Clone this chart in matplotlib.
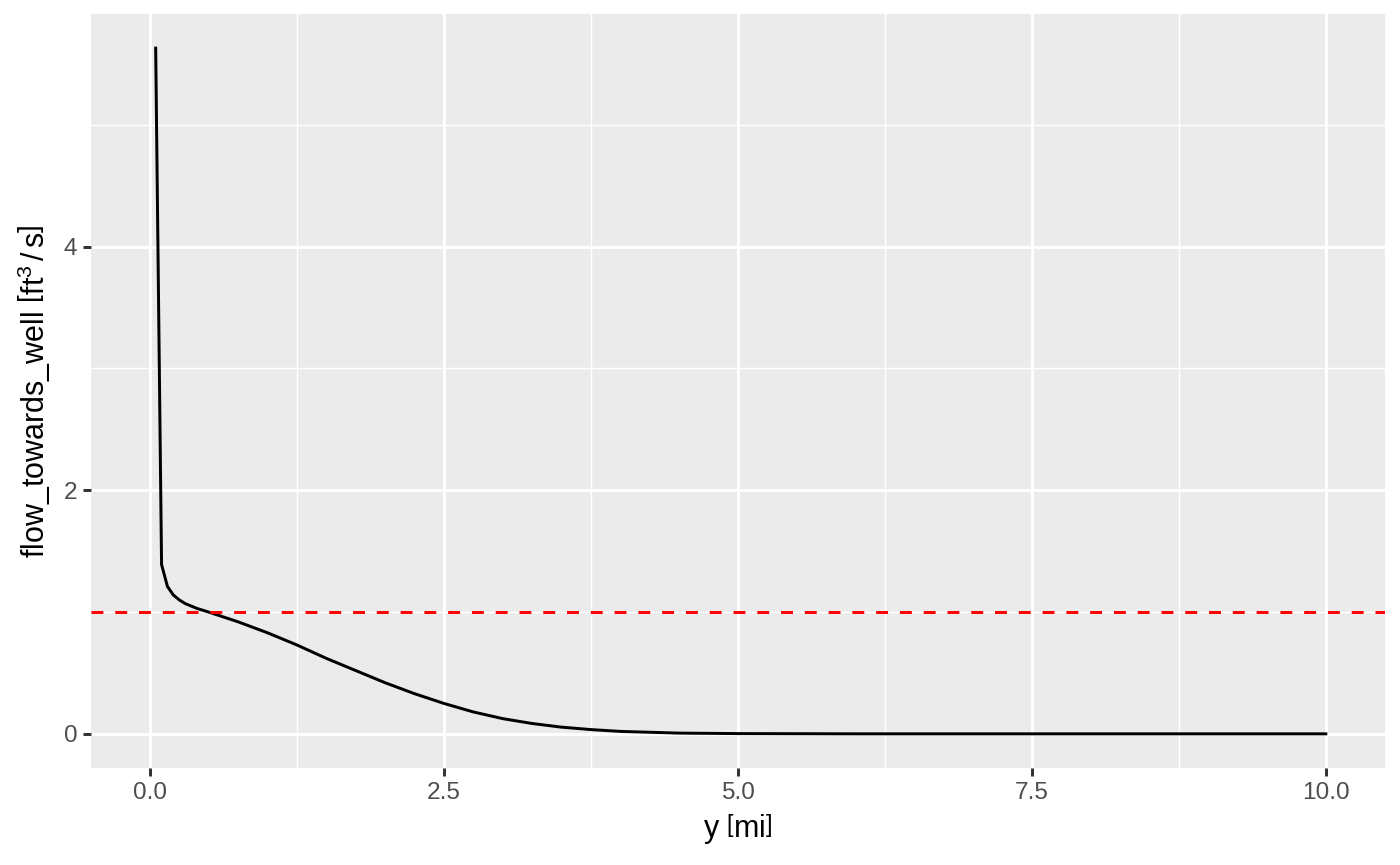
import matplotlib
matplotlib.use("Agg")
import matplotlib.pyplot as plt
from matplotlib.ticker import FixedLocator

plt.rcParams['font.family'] = ['Liberation Sans', 'DejaVu Sans']
plt.rcParams['mathtext.fontset'] = 'custom'
plt.rcParams['mathtext.rm'] = 'Liberation Sans'
plt.rcParams['mathtext.it'] = 'Liberation Sans:italic'

# --- data ---
y_mi = [0.05, 0.10, 0.15, 0.20, 0.25, 0.30, 0.40, 0.50, 0.75, 1.00,
        1.25, 1.50, 1.75, 2.00, 2.25, 2.50, 2.75, 3.00, 3.25, 3.50,
        3.75, 4.00, 4.50, 5.00, 6.00, 7.00, 8.00, 9.00, 10.00]
flow = [5.63, 1.39, 1.21, 1.14, 1.10, 1.07, 1.03, 1.00, 0.92, 0.83,
        0.73, 0.62, 0.52, 0.42, 0.33, 0.25, 0.18, 0.125, 0.085, 0.055,
        0.035, 0.02, 0.006, 0.002, 0.0, 0.0, 0.0, 0.0, 0.0]
threshold = 1.0
x_ticks = [0.0, 2.5, 5.0, 7.5, 10.0]
y_ticks = [0, 2, 4]
# -----------------------------------

lw = 1.07
fig = plt.figure(figsize=(7, 4.325), dpi=200)
ax = fig.add_axes([0.065, 0.112, 0.924, 0.872])
ax.set_facecolor("#EBEBEB")

ax.plot(y_mi, flow, color="black", linewidth=lw, zorder=3)
ax.axhline(threshold, color="#FF0000", linewidth=lw, linestyle=(0, (4, 4)), zorder=3)

# x scale spans 0..10 (ggplot default 5% expansion)
x_lo, x_hi = 0.0, max(y_mi)
xr = x_hi - x_lo
ax.set_xlim(x_lo - 0.05 * xr, x_hi + 0.05 * xr)
yr = max(flow) - min(flow)
ax.set_ylim(min(flow) - 0.05 * yr, max(flow) + 0.05 * yr)

ax.xaxis.set_major_locator(FixedLocator(x_ticks))
ax.yaxis.set_major_locator(FixedLocator(y_ticks))
ax.xaxis.set_minor_locator(FixedLocator([1.25, 3.75, 6.25, 8.75]))
ax.yaxis.set_minor_locator(FixedLocator([1, 3, 5]))
ax.set_xticklabels([f"{t:.1f}" for t in x_ticks])
ax.set_yticklabels([str(t) for t in y_ticks])

ax.grid(which="major", color="white", linewidth=lw)
ax.grid(which="minor", color="white", linewidth=lw / 2)
ax.set_axisbelow(True)
for s in ax.spines.values():
    s.set_visible(False)

ax.tick_params(which="major", length=2.75, width=lw, color="#333333",
               labelsize=8.8, labelcolor="#4D4D4D", pad=2.2)
ax.tick_params(which="minor", length=0)

ax.set_xlabel(r"y $\left[\mathrm{mi}\right]$", fontsize=11, labelpad=3)
ax.set_ylabel(r"flow_towards_well $\left[\mathrm{ft}^3\,/\,\mathrm{s}\right]$", fontsize=11, labelpad=4)

fig.savefig("out.png", dpi=200)
